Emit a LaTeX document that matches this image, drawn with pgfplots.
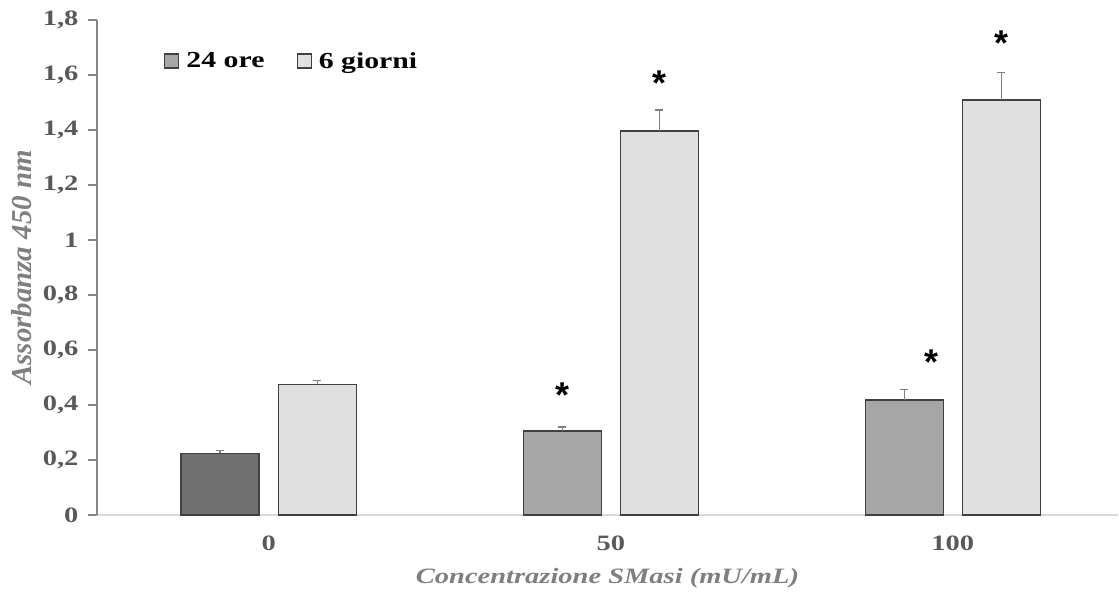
\documentclass[border=0pt]{standalone}
\usepackage{fontspec}
\setmainfont{Liberation Serif}[FakeStretch=1.3]
\newfontfamily\ylabfont{Liberation Serif}
\newfontfamily\starfont{Liberation Sans}
\usepackage{pgfplots}
\pgfplotsset{compat=1.18}

\definecolor{darkbar}{HTML}{707070}
\definecolor{midbar}{HTML}{A6A6A6}
\definecolor{lightbar}{HTML}{E0E0E0}
\definecolor{barline}{HTML}{404040}
\definecolor{ticktext}{HTML}{595959}
\definecolor{titletext}{HTML}{7F7F7F}
\definecolor{yaxis}{HTML}{868686}
\definecolor{xaxis}{HTML}{D9D9D9}

% categories at 0 (0 mU/mL), 1 (50 mU/mL), 2 (100 mU/mL);
% the two bars of a group sit at -0.142 and +0.142 from the group centre
\pgfplotstableread{
x y e
-0.142 0.224 0.011
}\oreZero
\pgfplotstableread{
x y e
0.858 0.305 0.015
1.858 0.418 0.039
}\oreRest
\pgfplotstableread{
x y e
0.142 0.475 0.013
1.142 1.396 0.077
2.142 1.509 0.099
}\giorni

\pgfplotsset{
  barstyle/.style={ybar, bar width=78bp, bar shift=0pt, draw=barline, line width=1.3bp,
    error bars/.cd, y dir=plus, y explicit,
    error bar style={draw=titletext, line width=1.3bp},
    error mark options={rotate=90, draw=titletext, mark size=4bp, line width=1.3bp},
    /pgfplots/.cd},
}

\begin{document}
\begin{tikzpicture}
\begin{axis}[name=ax,
  scale only axis, width=1021bp, height=495bp,
  xmin=-0.502, xmax=2.483, ymin=0, ymax=1.8,
  axis x line*=bottom, axis y line*=left,
  x axis line style={draw=xaxis, line width=1.2bp},
  y axis line style={draw=yaxis, line width=1.5bp},
  xtick={0,1,2}, xticklabels={0,50,100},
  x tick style={draw=none},
  ytick={0,0.2,0.4,0.6,0.8,1,1.2,1.4,1.6,1.8},
  y tick style={draw=yaxis, line width=1.2bp},
  tick align=outside, major tick length=9bp,
  /pgf/number format/.cd, use comma, fixed, assume math mode=true,
  /pgfplots/.cd,
  tick label style={font=\bfseries\fontsize{22}{22}\selectfont, text=ticktext},
  yticklabel style={xshift=-6bp},
  xticklabel style={yshift=-8bp},
  xlabel={Concentrazione SMasi (mU/mL)},
  xlabel style={font=\bfseries\itshape\fontsize{22}{22}\selectfont, text=titletext,
    at={(axis description cs:0.5,0)}, anchor=center, yshift=-63bp},
  ylabel={Assorbanza 450 nm},
  ylabel style={font=\ylabfont\bfseries\itshape\fontsize{29}{29}\selectfont, text=titletext,
    at={(axis description cs:-0.0735,0.5)}, anchor=center},
  legend columns=2,
  legend style={draw=none, fill=none, at={(axis description cs:0,1)}, anchor=north west,
    xshift=64bp, yshift=-28bp,
    font=\bfseries\fontsize{23}{23}\selectfont,
    /tikz/every even column/.append style={column sep=30bp}},
  legend image code/.code={\draw[#1, line width=1.3bp] (0bp,-7bp) rectangle (14bp,7bp); \path (19bp,0bp);},
  clip=false,
]
\addplot[barstyle, fill=midbar] table[x=x, y=y, y error=e] {\oreRest};
\addlegendentry{24 ore}
\addplot[barstyle, fill=lightbar] table[x=x, y=y, y error=e] {\giorni};
\addlegendentry{6 giorni}
\addplot[barstyle, fill=darkbar, forget plot] table[x=x, y=y, y error=e] {\oreZero};

% significance marks
\begin{scope}[every node/.style={font=\starfont\bfseries\fontsize{36}{36}\selectfont, anchor=center, inner sep=0pt}]
\node at (axis cs:0.858,0.436) {*};
\node at (axis cs:1.142,1.571) {*};
\node at (axis cs:1.938,0.556) {*};
\node at (axis cs:2.142,1.716) {*};
\end{scope}
\end{axis}
\pgfresetboundingbox
\path ([xshift=-97bp,yshift=-84bp]ax.south west) rectangle ([xshift=1bp,yshift=20bp]ax.north east);
\end{tikzpicture}
\end{document}
